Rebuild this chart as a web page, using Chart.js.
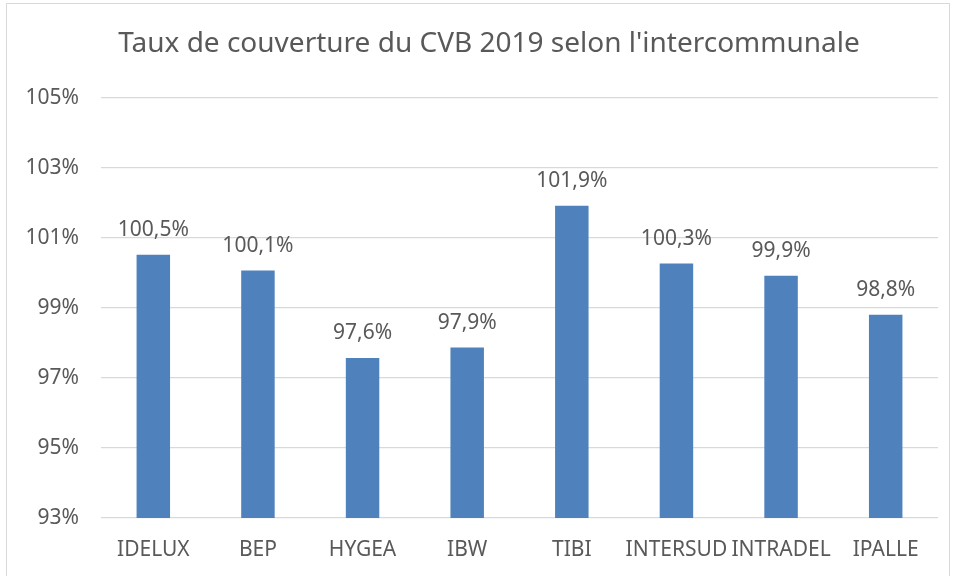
<!DOCTYPE html>
<html>
<head>
<meta charset="utf-8">
<script src="https://cdn.jsdelivr.net/npm/chart.js@4"></script>
<style>
  html, body { margin: 0; padding: 0; background: #fff; }
  #wrap { position: relative; width: 956px; height: 576px; overflow: hidden; }
  #frame { position: absolute; left: 6px; top: 3px; width: 944px; height: 600px; border: 1px solid #d9d9d9; box-sizing: border-box; }
  canvas { position: absolute; left: 0; top: 0; }
</style>
</head>
<body>
<div id="wrap">
  <div id="frame"></div>
  <canvas id="chart" width="956" height="576"></canvas>
</div>
<script>
// ── data ──
const categories = ['IDELUX', 'BEP', 'HYGEA', 'IBW', 'TIBI', 'INTERSUD', 'INTRADEL', 'IPALLE'];
const coverage   = [100.52, 100.07, 97.57, 97.87, 101.92, 100.27, 99.92, 98.81];
const yTicks     = [93, 95, 97, 99, 101, 103, 105];
const titleText  = "Taux de couverture du CVB 2019 selon l'intercommunale";

const TEXT = '#595959';
const FONT = '"Noto Sans", "Open Sans", sans-serif';

const fmt = v => v.toFixed(1).replace('.', ',') + '%';

// title is drawn by hand: it sits centred on the frame, not on the plot
const frameTitle = {
    id: 'frameTitle',
    afterDraw(chart) {
        const ctx = chart.ctx;
        ctx.save();
        ctx.font = '28px ' + FONT;
        ctx.fillStyle = TEXT;
        ctx.textAlign = 'center';
        ctx.textBaseline = 'middle';
        ctx.fillText(titleText, 489, 44);
        ctx.restore();
    }
};

// value labels above each bar
const barLabels = {
    id: 'barLabels',
    afterDatasetsDraw(chart) {
        const ctx = chart.ctx;
        const meta = chart.getDatasetMeta(0);
        ctx.save();
        ctx.font = '21px ' + FONT;
        ctx.fillStyle = TEXT;
        ctx.textAlign = 'center';
        ctx.textBaseline = 'alphabetic';
        meta.data.forEach((bar, i) => {
            ctx.fillText(fmt(coverage[i]), bar.x, bar.y - 19);
        });
        ctx.restore();
    }
};

new Chart(document.getElementById('chart'), {
    type: 'bar',
    data: {
        labels: categories,
        datasets: [{
            data: coverage,
            backgroundColor: '#4F81BD',
            borderWidth: 0,
            categoryPercentage: 1,
            barPercentage: 0.32
        }]
    },
    options: {
        responsive: false,
        animation: false,
        layout: { padding: { left: 0, right: 18, top: 98, bottom: 0 } },
        plugins: {
            legend: { display: false },
            tooltip: { enabled: false },
            title: { display: false }
        },
        scales: {
            y: {
                min: 93, max: 105,
                afterFit: s => { s.width = 101; },
                afterBuildTicks: s => { s.ticks = yTicks.map(v => ({ value: v })); },
                grid: { color: '#d9d9d9', lineWidth: 1.3, drawTicks: false },
                border: { display: false },
                ticks: {
                    color: TEXT,
                    padding: 22,
                    font: { family: FONT, size: 21 },
                    callback: v => v + '%'
                }
            },
            x: {
                afterFit: s => { s.height = 58; },
                grid: { display: false, drawTicks: false },
                border: { display: false },
                ticks: {
                    color: TEXT,
                    padding: 19,
                    maxRotation: 0,
                    autoSkip: false,
                    font: { family: FONT, size: 21 }
                }
            }
        }
    },
    plugins: [barLabels, frameTitle]
});
</script>
</body>
</html>
